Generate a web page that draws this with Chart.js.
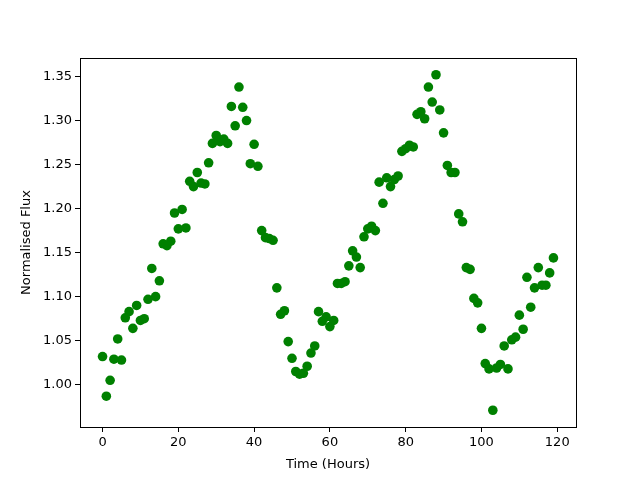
<!DOCTYPE html>
<html>
<head>
<meta charset="utf-8">
<script src="https://cdn.jsdelivr.net/npm/chart.js@4/dist/chart.umd.min.js"></script>
<style>
  html, body { margin: 0; padding: 0; background: #fff; }
  #wrap { width: 640px; height: 480px; }
</style>
</head>
<body>
<div id="wrap"><canvas id="lightcurve" width="640" height="480"></canvas></div>
<script>
// hours since start, one reading per hour
var hours = [];
for (var h = 0; h < 120; h++) hours.push(h);

var flux = [
  1.032, 0.987, 1.005, 1.029, 1.052, 1.028, 1.076, 1.083, 1.064, 1.090,
  1.073, 1.075, 1.097, 1.132, 1.100, 1.118, 1.160, 1.158, 1.163, 1.195,
  1.177, 1.199, 1.178, 1.231, 1.225, 1.241, 1.229, 1.228, 1.252, 1.274,
  1.283, 1.276, 1.279, 1.274, 1.316, 1.294, 1.338, 1.315, 1.300, 1.251,
  1.273, 1.248, 1.175, 1.167, 1.166, 1.164, 1.110, 1.080, 1.084, 1.049,
  1.030, 1.015, 1.012, 1.013, 1.021, 1.036, 1.044, 1.083, 1.072, 1.077,
  1.066, 1.073, 1.115, 1.115, 1.117, 1.135, 1.152, 1.145, 1.133, 1.168,
  1.177, 1.180, 1.175, 1.230, 1.206, 1.235, 1.225, 1.233, 1.237, 1.265,
  1.268, 1.272, 1.270, 1.307, 1.310, 1.302, 1.338, 1.321, 1.352, 1.312,
  1.286, 1.249, 1.241, 1.241, 1.194, 1.185, 1.133, 1.131, 1.098, 1.093,
  1.064, 1.024, 1.018, 0.971, 1.019, 1.023, 1.044, 1.018, 1.051, 1.054,
  1.079, 1.063, 1.122, 1.088, 1.110, 1.133, 1.113, 1.113, 1.127, 1.144
];

var xTicks = [0, 20, 40, 60, 80, 100, 120];
var yTicks = [1.00, 1.05, 1.10, 1.15, 1.20, 1.25, 1.30, 1.35];

var points = hours.map(function (h, i) { return { x: h, y: flux[i] }; });

// draw the full black box around the plot area like matplotlib
var frame = {
  id: "frame",
  afterDraw: function (chart) {
    var a = chart.chartArea, ctx = chart.ctx;
    ctx.save();
    ctx.strokeStyle = "#000";
    ctx.lineWidth = 1;
    ctx.strokeRect(Math.round(a.left) + 0.5, Math.round(a.top) + 0.5,
      Math.round(a.right - a.left), Math.round(a.bottom - a.top));
    ctx.restore();
  }
};

var font = { family: "DejaVu Sans", size: 13 };

new Chart("lightcurve", {
  type: "scatter",
  data: {
    datasets: [{
      data: points,
      backgroundColor: "#008000",
      borderColor: "#008000",
      borderWidth: 0,
      pointRadius: 4.8,
      pointHoverRadius: 4.8
    }]
  },
  options: {
    responsive: false,
    animation: false,
    layout: { padding: { top: 58, right: 64, left: 15, bottom: 4 } },
    plugins: { legend: { display: false }, tooltip: { enabled: false } },
    scales: {
      x: {
        type: "linear",
        min: -5.95,
        max: 124.95,
        afterBuildTicks: function (s) { s.ticks = xTicks.map(function (v) { return { value: v }; }); },
        afterFit: function (s) { s.height = 49; },
        grid: { drawOnChartArea: false, drawTicks: true, tickLength: 5, color: "#000" },
        border: { display: true, color: "#000" },
        ticks: { color: "#000", font: font, padding: 3, maxRotation: 0 },
        title: { display: true, text: "Time (Hours)", color: "#000", font: font, padding: { top: 2 } }
      },
      y: {
        min: 0.952,
        max: 1.371,
        afterBuildTicks: function (s) { s.ticks = yTicks.map(function (v) { return { value: v }; }); },
        afterFit: function (s) { s.width = 65; },
        grid: { drawOnChartArea: false, drawTicks: true, tickLength: 5, color: "#000" },
        border: { display: true, color: "#000" },
        ticks: {
          color: "#000", font: font, padding: 3,
          callback: function (v) { return v.toFixed(2); }
        },
        title: { display: true, text: "Normalised Flux", color: "#000", font: font, padding: { bottom: 4 } }
      }
    }
  },
  plugins: [frame]
});
</script>
</body>
</html>
